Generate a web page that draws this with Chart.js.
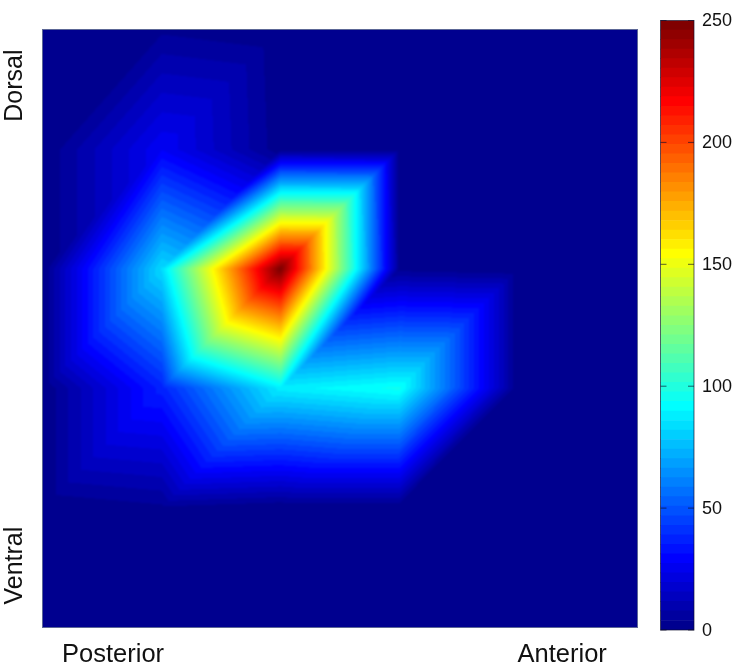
<!DOCTYPE html>
<html>
<head>
<meta charset="utf-8">
<style>
  html, body { margin: 0; padding: 0; background: #fff; overflow: hidden; }
  canvas { position: absolute; top: 0; }
  #heat { left: 0; }
  #bar { left: 640px; }
</style>
<script src="https://cdn.jsdelivr.net/npm/chart.js@4"></script>
</head>
<body>
<canvas id="heat" width="640" height="667"></canvas>
<canvas id="bar" width="98" height="667"></canvas>
<script>
// node values, top row (dorsal) first, left column (posterior) first
const row0 = [0, 3, 0, 0, 0, 0];
const row1 = [0, 27, 1, 0, 0, 0];
const row2 = [0, 83, 250, 2, 0, 0];
const row3 = [0, 37, 88, 95, 0, 0];
const row4 = [0, 3, 0, 0, 0, 0];
const row5 = [0, 0, 0, 0, 0, 0];
const heatRows = [row0, row1, row2, row3, row4, row5];

const xLabels = ['Posterior', 'Anterior'];
const xLabelPos = [0.59, 4.37];
const yLabels = ['Dorsal', 'Ventral'];
const yLabelPos = [0.163, 4.16];
const barTicks = [0, 50, 100, 150, 200, 250];
const maxValue = 250;
const levels = 64;

const font = 'Arial, "Liberation Sans", sans-serif';

function clamp01(v) {
    return Math.max(0, Math.min(1, v));
}

// matlab jet(64)
function jet(i) {
    const t = (i + 1) / levels;
    return [
        Math.round(255 * clamp01(Math.min(4 * t - 1.5, -4 * t + 4.5))),
        Math.round(255 * clamp01(Math.min(4 * t - 0.5, -4 * t + 3.5))),
        Math.round(255 * clamp01(Math.min(4 * t + 0.5, -4 * t + 2.5)))
    ];
}

function valueAt(col, row) {
    const c = Math.min(Math.floor(col), heatRows[0].length - 2);
    const r = Math.min(Math.floor(row), heatRows.length - 2);
    const u = col - c;
    const v = row - r;
    const tl = heatRows[r][c], tr = heatRows[r][c + 1];
    const bl = heatRows[r + 1][c], br = heatRows[r + 1][c + 1];
    // every cell is split along the bottom-left to top-right diagonal
    if (u + v <= 1) return tl + u * (tr - tl) + v * (bl - tl);
    return br + (1 - u) * (bl - br) + (1 - v) * (tr - br);
}

const shadePlugin = {
    id: 'shade',
    beforeDatasetsDraw(chart) {
        const { ctx, chartArea: a, scales } = chart;
        const w = Math.round(a.right - a.left);
        const h = Math.round(a.bottom - a.top);
        const off = document.createElement('canvas');
        off.width = w;
        off.height = h;
        const octx = off.getContext('2d');
        const img = octx.createImageData(w, h);
        for (let py = 0; py < h; py++) {
            const row = scales.y.getValueForPixel(a.top + py + 0.5);
            for (let px = 0; px < w; px++) {
                const col = scales.x.getValueForPixel(a.left + px + 0.5);
                const val = valueAt(col, row);
                const idx = Math.min(levels - 1, Math.floor(val / maxValue * levels));
                const rgb = jet(idx);
                const k = (py * w + px) * 4;
                img.data[k] = rgb[0];
                img.data[k + 1] = rgb[1];
                img.data[k + 2] = rgb[2];
                img.data[k + 3] = 255;
            }
        }
        octx.putImageData(img, 0, 0);
        ctx.save();
        ctx.beginPath();
        ctx.rect(a.left, a.top, w, h);
        ctx.clip();
        ctx.fillStyle = 'rgb(' + jet(0).join(',') + ')';
        ctx.fillRect(a.left, a.top, w, h);
        ctx.filter = 'blur(1.3px)';
        ctx.drawImage(off, a.left, a.top);
        ctx.restore();
        ctx.save();
        ctx.strokeStyle = '#5c6796';
        ctx.lineWidth = 1;
        ctx.strokeRect(a.left - 0.5, a.top - 0.5, w + 1, h + 1);
        ctx.restore();
    }
};

const heatPoints = [];
heatRows.forEach((r, j) => r.forEach((v, i) => heatPoints.push({ x: i, y: j, v: v })));

const heat = new Chart(document.getElementById('heat'), {
    type: 'scatter',
    data: { datasets: [{ data: heatPoints, pointRadius: 0 }] },
    options: {
        responsive: false,
        animation: false,
        layout: { padding: { top: 30, right: 3, bottom: 0, left: 0 } },
        plugins: { legend: { display: false }, tooltip: { enabled: false } },
        scales: {
            x: {
                type: 'linear', min: 0, max: 5,
                grid: { display: false },
                border: { display: false },
                afterFit(s) { s.height = 40; s.paddingLeft = 0; s.paddingRight = 0; },
                afterBuildTicks(s) { s.ticks = xLabelPos.map(p => ({ value: p })); },
                ticks: {
                    autoSkip: false, maxRotation: 0, minRotation: 0, padding: 5,
                    color: '#111', font: { family: font, size: 25.5 },
                    callback(v) { return xLabels[xLabelPos.indexOf(v)]; }
                }
            },
            y: {
                type: 'linear', min: 0, max: 5, reverse: true,
                grid: { display: false },
                border: { display: false },
                afterFit(s) { s.width = 43; s.paddingTop = 0; s.paddingBottom = 0; },
                afterBuildTicks(s) { s.ticks = yLabelPos.map(p => ({ value: p })); },
                ticks: {
                    autoSkip: false, minRotation: 90, maxRotation: 90, padding: 20,
                    color: '#111', font: { family: font, size: 25 },
                    callback(v) { return yLabels[yLabelPos.indexOf(v)]; }
                }
            }
        }
    },
    plugins: [shadePlugin]
});

// colour bar: one stacked segment per colormap level
const barSegments = [];
for (let i = 0; i < levels; i++) {
    const c = jet(i);
    barSegments.push({
        data: [maxValue / levels],
        backgroundColor: 'rgb(' + c.join(',') + ')',
        borderWidth: 0,
        barPercentage: 1,
        categoryPercentage: 1
    });
}

const barFrame = {
    id: 'barFrame',
    afterDatasetsDraw(chart) {
        const { ctx, chartArea: a, scales } = chart;
        ctx.save();
        ctx.strokeStyle = 'rgba(10,10,40,0.65)';
        ctx.lineWidth = 1;
        ctx.strokeRect(a.left, a.top, a.right - a.left, a.bottom - a.top);
        barTicks.forEach(t => {
            const y = scales.y.getPixelForValue(t);
            ctx.beginPath();
            ctx.moveTo(a.left, y);
            ctx.lineTo(a.left + 6, y);
            ctx.moveTo(a.right - 6, y);
            ctx.lineTo(a.right, y);
            ctx.stroke();
        });
        ctx.restore();
    }
};

const bar = new Chart(document.getElementById('bar'), {
    type: 'bar',
    data: { labels: [''], datasets: barSegments },
    options: {
        responsive: false,
        animation: false,
        layout: { padding: { top: 20.5, right: 0, bottom: 0, left: 20.5 } },
        plugins: { legend: { display: false }, tooltip: { enabled: false } },
        scales: {
            x: {
                stacked: true,
                grid: { display: false },
                border: { display: false },
                ticks: { display: false },
                afterFit(s) { s.height = 37; }
            },
            y: {
                stacked: true, position: 'right', min: 0, max: maxValue,
                grid: { display: false, drawTicks: false },
                border: { display: false },
                afterFit(s) { s.width = 44; },
                afterBuildTicks(s) { s.ticks = barTicks.map(t => ({ value: t })); },
                ticks: { padding: 8, labelOffset: 1, color: '#111', font: { family: font, size: 18 } }
            }
        }
    },
    plugins: [barFrame]
});
</script>
</body>
</html>
